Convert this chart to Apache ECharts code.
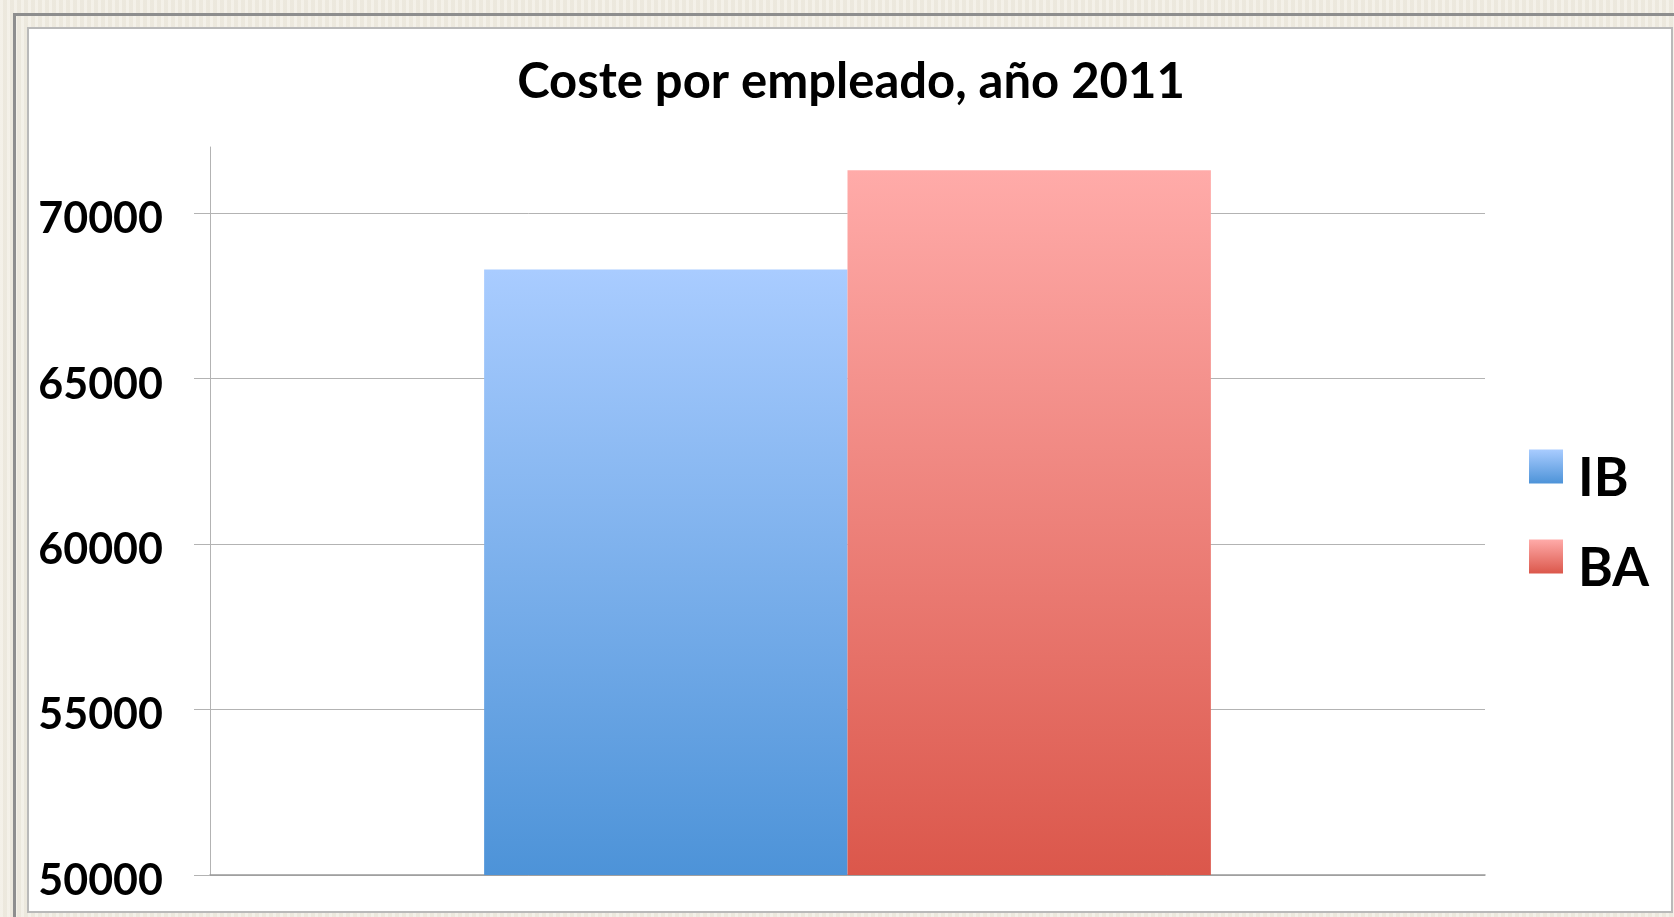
<!DOCTYPE html>
<html>
<head>
<meta charset="utf-8">
<title>Coste por empleado, año 2011</title>
<script src="https://cdn.jsdelivr.net/npm/echarts@6/dist/echarts.min.js"></script>
<style>
  html, body { margin: 0; padding: 0; width: 1674px; height: 917px; overflow: hidden; }
  body {
    background-color: #f0ece1;
    background-image: repeating-linear-gradient(90deg, rgba(255,255,255,0.25) 0px, rgba(255,255,255,0.25) 3px, rgba(0,0,0,0.015) 3px, rgba(0,0,0,0.015) 7px);
    position: relative;
  }
  /* outer dark frame line */
  #outer { position: absolute; left: 13px; top: 13px; width: 1700px; height: 940px; border-left: 3px solid #8e8e8e; border-top: 3px solid #8e8e8e; box-sizing: border-box; }
  /* white chart panel */
  #panel { position: absolute; left: 27px; top: 27px; width: 1646px; height: 886px; background: #ffffff; border: 2px solid #b9b9b9; box-sizing: border-box; }
  #chart { position: absolute; left: 0; top: 0; width: 1674px; height: 917px; }
</style>
</head>
<body>
<div id="outer"></div>
<div id="panel"></div>
<div id="chart"></div>
<script>
// Coste por empleado (EUR), año 2011
const categories = ['2011'];
const seriesNames = ['IB', 'BA'];
const valuesIB = [68300];
const valuesBA = [71300];
const yTicks = [50000, 55000, 60000, 65000, 70000];

const FONT = 'Lato, "Open Sans", sans-serif';

function vGrad(top, bottom) {
  return new echarts.graphic.LinearGradient(0, 0, 0, 1, [
    { offset: 0, color: top },
    { offset: 1, color: bottom }
  ]);
}

const chart = echarts.init(document.getElementById('chart'), null, { renderer: 'canvas' });

chart.setOption({
  backgroundColor: 'transparent',
  animation: false,
  title: {
    text: 'Coste por empleado, año 2011',
    left: 846,
    textAlign: 'center',
    top: 53,
    textStyle: { fontFamily: FONT, fontWeight: 'bold', fontSize: 49, color: '#000' }
  },
  legend: {
    data: seriesNames,
    orient: 'vertical',
    left: 1524,
    top: 423,
    itemWidth: 34,
    itemHeight: 34,
    itemGap: 13,
    icon: 'rect',
    formatter: (name) => '{n|' + name + '}',
    textStyle: {
      fontFamily: FONT, fontWeight: 'bold', fontSize: 53, color: '#000',
      rich: { n: { fontFamily: FONT, fontWeight: 'bold', fontSize: 53, color: '#000', lineHeight: 40, padding: [24, 0, 0, 10] } }
    }
  },
  grid: { left: 210, right: 189, top: 147, bottom: 42, containLabel: false },
  xAxis: {
    type: 'category',
    data: categories,
    axisLine: { show: true, lineStyle: { color: '#9a9a9a', width: 1.5 } },
    axisTick: { show: false },
    axisLabel: { show: false },
    splitLine: { show: false }
  },
  yAxis: {
    type: 'value',
    min: 50000,
    max: 72000,
    interval: 5000,
    axisLine: { show: true, lineStyle: { color: '#b3b3b3', width: 1 } },
    axisTick: { show: true, inside: false, length: 16, customValues: yTicks, lineStyle: { color: '#b3b3b3' } },
    axisLabel: {
      customValues: yTicks,
      margin: 47,
      formatter: (v) => '{v|' + v + '}',
      rich: { v: { fontFamily: FONT, fontWeight: 'bold', fontSize: 43, color: '#000', padding: [12, 0, 0, 0] } },
      fontFamily: FONT,
      fontWeight: 'bold',
      fontSize: 43,
      color: '#000'
    },
    splitLine: { show: true, lineStyle: { color: '#b3b3b3', width: 1 } }
  },
  series: [
    {
      name: 'IB',
      type: 'bar',
      data: valuesIB,
      barGap: '0%',
      barCategoryGap: '43%',
      itemStyle: { color: vGrad('#a9ccff', '#4d93d8') }
    },
    {
      name: 'BA',
      type: 'bar',
      data: valuesBA,
      itemStyle: { color: vGrad('#ffaba9', '#db574b') }
    }
  ]
});
</script>
</body>
</html>
